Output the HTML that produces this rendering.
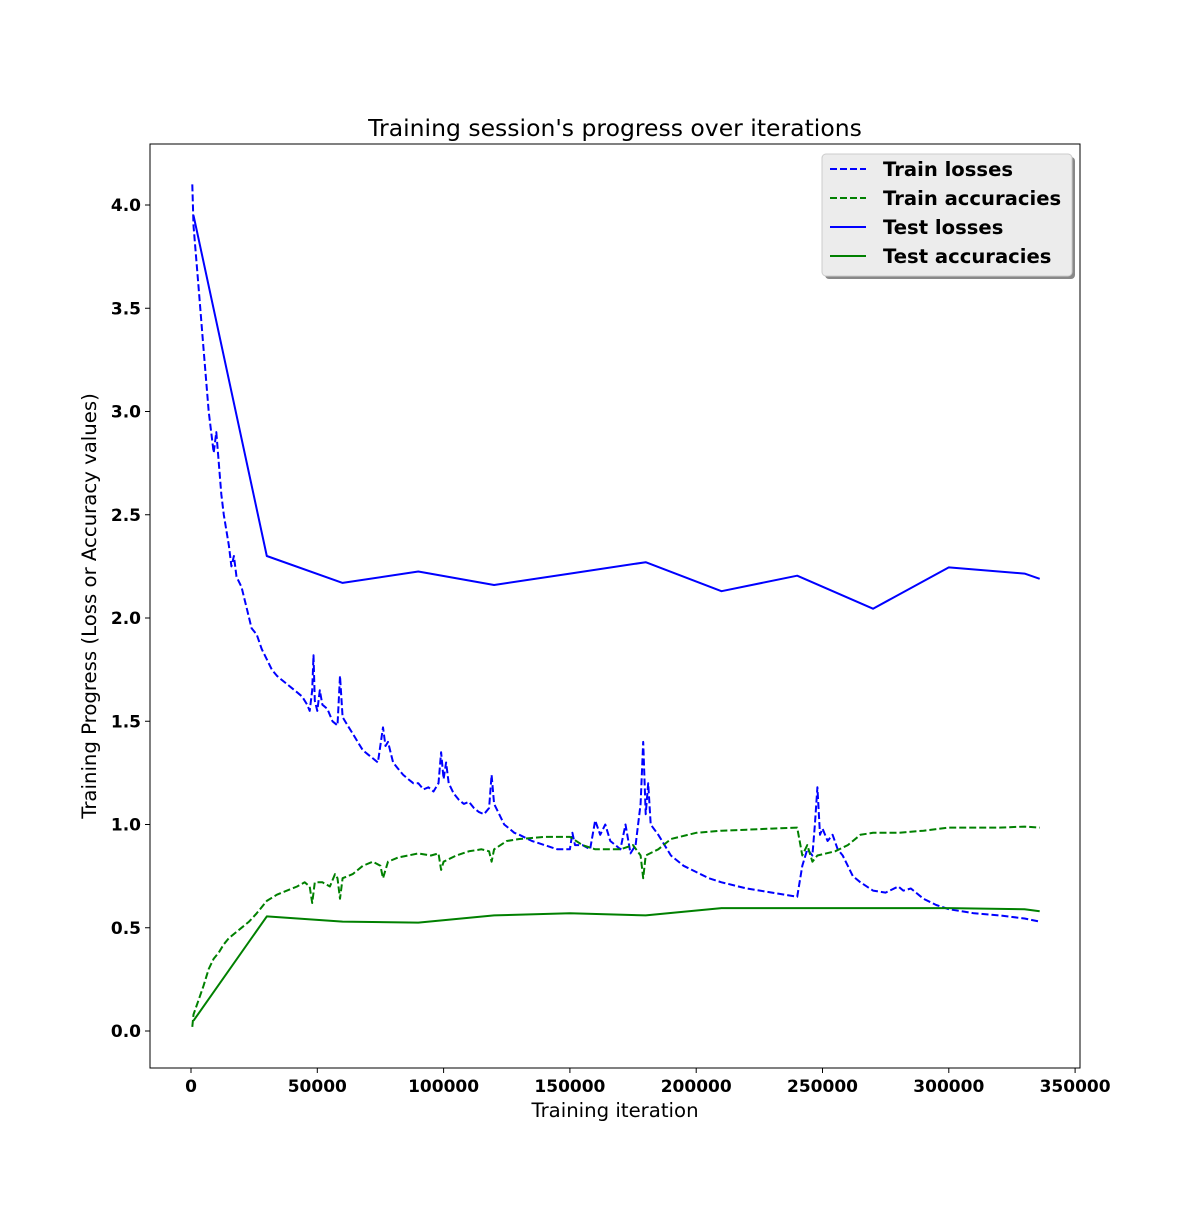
<!DOCTYPE html>
<html><head><meta charset="utf-8"><style>
body{margin:0;background:#fff}
svg text{font-family:"DejaVu Sans","Liberation Sans",sans-serif}
</style></head><body>
<svg id="chart" width="1200" height="1200" xmlns="http://www.w3.org/2000/svg">
<rect width="1200" height="1200" fill="#fff"/>
<text x="615" y="136" font-size="23.5" text-anchor="middle">Training session's progress over iterations</text>
<g id="plot"></g>
<rect x="150" y="144" width="930" height="924" fill="none" stroke="#000" stroke-width="1"/>
<text x="615" y="1117" font-size="19.7" text-anchor="middle">Training iteration</text>
<text transform="translate(96,606) rotate(-90)" font-size="19.7" text-anchor="middle">Training Progress (Loss or Accuracy values)</text>
<g>
<rect x="825" y="157" width="250" height="122" rx="4" fill="#888"/>
<rect x="822" y="154" width="250" height="122" rx="4" fill="#ececec" stroke="#ccc"/>
<line x1="830" y1="169" x2="866" y2="169" stroke="#0000ff" stroke-width="2" stroke-dasharray="7,3"/>
<text x="883" y="176" font-size="19.6" font-weight="bold">Train losses</text>
<line x1="830" y1="198" x2="866" y2="198" stroke="#008000" stroke-width="2" stroke-dasharray="7,3"/>
<text x="883" y="205" font-size="19.6" font-weight="bold">Train accuracies</text>
<line x1="830" y1="227" x2="866" y2="227" stroke="#0000ff" stroke-width="2"/>
<text x="883" y="234" font-size="19.6" font-weight="bold">Test losses</text>
<line x1="830" y1="256" x2="866" y2="256" stroke="#008000" stroke-width="2"/>
<text x="883" y="263" font-size="19.6" font-weight="bold">Test accuracies</text>
</g>
</svg>
<script>
const xTicks=[0,50000,100000,150000,200000,250000,300000,350000];
const yTicks=[0.0,0.5,1.0,1.5,2.0,2.5,3.0,3.5,4.0];
const yTickLabels=["0.0","0.5","1.0","1.5","2.0","2.5","3.0","3.5","4.0"];
const testIters=[1000,30000,60000,90000,120000,150000,180000,210000,240000,270000,300000,330000,336000];
const testLosses=[3.95,2.30,2.17,2.225,2.16,2.215,2.27,2.13,2.205,2.045,2.245,2.215,2.19];
const testAcc=[0.05,0.555,0.53,0.525,0.56,0.57,0.56,0.595,0.595,0.595,0.595,0.59,0.58];
const trainLossIters=[0.5,1,3,5,7,9,10,11,12,13,15,16,17,18,20,22,24,26,28,30,32,34,36,38,40,42,44,46,47,48,48.5,49,50,51,52,54,56,58,59,60,62,64,66,68,70,72,74,76,77,78,80,82,84,86,88,90,92,94,96,98,99,100,101,102,104,106,108,110,112,114,116,118,119,120,122,124,126,128,130,135,140,145,150,151,152,155,158,160,162,164,166,168,170,172,174,176,178,179,180,181,182,185,190,195,200,205,210,220,230,240,242,244,246,247,248,249,250,252,254,256,258,260,262,265,270,275,280,282,285,290,295,300,310,320,330,336];
const trainLosses=[4.1,3.9,3.6,3.3,3.0,2.8,2.9,2.75,2.6,2.5,2.35,2.25,2.3,2.2,2.15,2.05,1.95,1.92,1.85,1.8,1.75,1.72,1.70,1.68,1.66,1.64,1.62,1.58,1.55,1.65,1.82,1.6,1.55,1.65,1.58,1.56,1.5,1.48,1.72,1.52,1.48,1.44,1.40,1.36,1.34,1.32,1.30,1.47,1.38,1.40,1.30,1.27,1.24,1.22,1.20,1.20,1.17,1.18,1.16,1.20,1.35,1.22,1.3,1.2,1.15,1.12,1.10,1.11,1.08,1.06,1.05,1.08,1.24,1.10,1.05,1.0,0.98,0.96,0.95,0.92,0.90,0.88,0.88,0.96,0.9,0.9,0.88,1.02,0.95,1.0,0.92,0.9,0.88,1.0,0.86,0.9,1.1,1.4,1.05,1.2,1.0,0.95,0.85,0.80,0.77,0.74,0.72,0.69,0.67,0.65,0.8,0.88,0.85,1.0,1.18,0.95,0.98,0.92,0.95,0.88,0.85,0.8,0.75,0.72,0.68,0.67,0.70,0.68,0.69,0.64,0.61,0.59,0.57,0.56,0.545,0.53];
const trainAccIters=[0.5,1,3,5,7,9,11,13,15,18,20,23,26,30,34,38,42,45,47,48,49,52,55,57,58,59,60,64,68,72,75,76,78,82,86,90,95,98,99,100,105,110,115,118,119,120,125,130,140,150,155,160,170,175,178,179,180,185,190,200,210,220,230,240,242,244,246,248,255,260,265,270,280,290,300,310,320,330,336];
const trainAcc=[0.02,0.08,0.15,0.22,0.3,0.35,0.38,0.42,0.45,0.48,0.5,0.53,0.57,0.63,0.66,0.68,0.7,0.72,0.7,0.62,0.72,0.72,0.7,0.76,0.74,0.64,0.74,0.76,0.8,0.82,0.8,0.74,0.82,0.84,0.85,0.86,0.85,0.86,0.78,0.82,0.85,0.87,0.88,0.87,0.82,0.88,0.92,0.93,0.94,0.94,0.9,0.88,0.88,0.9,0.85,0.74,0.85,0.88,0.93,0.96,0.97,0.975,0.98,0.985,0.85,0.9,0.82,0.85,0.87,0.9,0.95,0.96,0.96,0.97,0.985,0.985,0.985,0.99,0.985];
const X=v=>191+(v/50000)*126.3;
const Y=v=>1031-(v/0.5)*103.25;
const NS="http://www.w3.org/2000/svg";
const svg=document.getElementById('chart');
const plot=document.getElementById('plot');
function mk(t,a,p){const e=document.createElementNS(NS,t);for(const k in a)e.setAttribute(k,a[k]);(p||svg).appendChild(e);return e;}
xTicks.forEach(v=>{
  const l=mk('line',{x1:X(v),x2:X(v),y1:1068,y2:1073,stroke:'#000'});
  
  
  const t=mk('text',{x:X(v),y:1092,'font-size':17,'font-weight':'bold','text-anchor':'middle'});
  t.textContent=String(v);
  
  
});
yTicks.forEach((v,i)=>{
  const l=mk('line',{x1:145,x2:150,y1:Y(v),y2:Y(v),stroke:'#000'});
  
  
  const t=mk('text',{x:141,y:Y(v)+6,'font-size':17,'font-weight':'bold','text-anchor':'end'});
  t.textContent=yTickLabels[i];
  
  
});
function line(xs,ys,scale,color,dash,name){
  const d=xs.map((x,i)=>(i?'L':'M')+X(x*scale).toFixed(1)+','+Y(ys[i]).toFixed(1)).join('');
  const p=mk('path',{d:d,fill:'none',stroke:color,'stroke-width':2,'stroke-dasharray':dash||'none','stroke-linejoin':'round'},plot);
  
  
}
line(trainLossIters,trainLosses,1000,'#0000ff','7,3','train-losses-line');
line(trainAccIters,trainAcc,1000,'#008000','7,3','train-accuracies-line');
line(testIters,testLosses,1,'#0000ff',null,'test-losses-line');
line(testIters,testAcc,1,'#008000',null,'test-accuracies-line');
</script>
</body></html>
